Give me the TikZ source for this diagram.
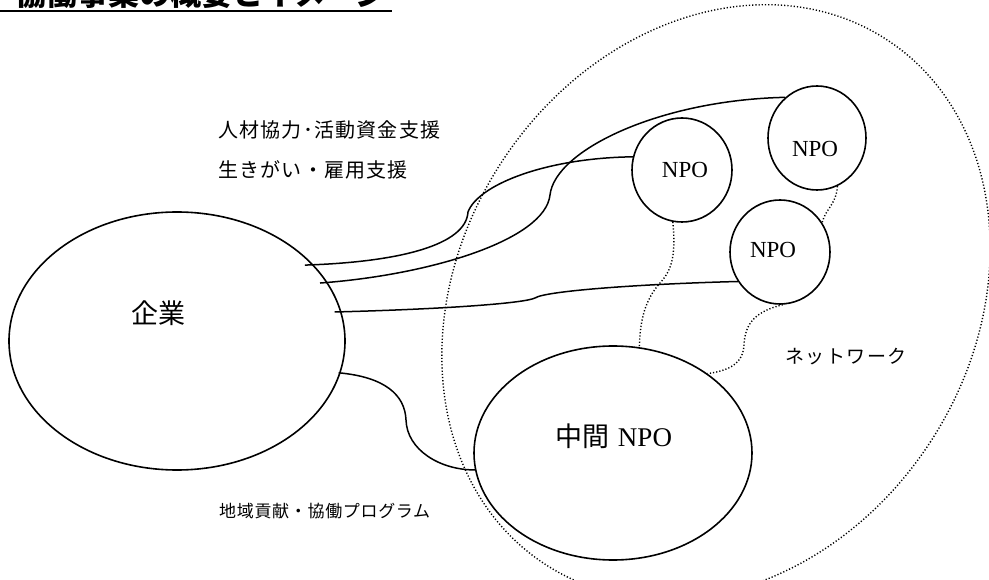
\documentclass[tikz,border=0pt]{standalone}
\usepackage{fontspec}
\setmainfont{Liberation Serif}
\newfontfamily\jp{Noto Sans CJK JP}
\newfontfamily\jpsp{Noto Sans CJK JP}[LetterSpace=6]
\newfontfamily\jpspb{Noto Sans CJK JP}[LetterSpace=4]
\newfontfamily\jpspc{Noto Sans CJK JP}[LetterSpace=8]
\usetikzlibrary{shapes.geometric,calc}
\tikzset{
  blob/.style={ellipse, draw, line width=1.6pt, inner sep=0pt},
  conn/.style={line width=1.5pt},
  netdot/.style={line width=1.4pt, dash pattern=on 1.2pt off 2pt},
  lbl/.style={inner sep=0pt, anchor=west},
  npotext/.style={inner sep=0pt, font=\fontsize{23}{26}\selectfont}
}
\begin{document}
\begin{tikzpicture}[x=1pt,y=-1pt]
\useasboundingbox (0,0) rectangle (989,580);
\clip (0,0) rectangle (989,580);
\fill[white] (0,0) rectangle (989,580);

% title (cut off at top, as in the source)
\node[anchor=base west, inner sep=0pt, font=\jp\bfseries\fontsize{31}{34}\selectfont] (title) at (15,6) {協働事業の概要とイメージ};
\draw[line width=2pt] (0,11) -- (392,11);

% network region
\draw[netdot, shift={(716,302)}, rotate=-33] (0,0) ellipse [x radius=256, y radius=313];

% main shapes
\node[blob, minimum width=336pt, minimum height=258pt] (corp) at (177,341) {};
\node[blob, minimum width=278pt, minimum height=214pt] (mid) at (613,453) {};
\node[blob, minimum width=100pt, minimum height=104pt] (npoA) at (682,170) {};
\node[blob, minimum width=98pt, minimum height=104pt] (npoB) at (817,138) {};
\node[blob, minimum width=100pt, minimum height=104pt] (npoC) at (780,252) {};

% texts in shapes
\node[inner sep=0pt, font=\jp\fontsize{27}{30}\selectfont] (corpT) at (158,313) {企業};
\node[inner sep=0pt, font=\fontsize{27}{30}\selectfont] (midT) at (614,436) {{\jp 中間}\hspace{8pt}NPO};
\node[npotext] (tA) at (685,170) {NPO};
\node[npotext] (tB) at (815,149) {NPO};
\node[npotext] (tC) at (773,250) {NPO};

% labels
\node[lbl, font=\jpsp\fontsize{20}{22}\selectfont] (l1) at (218,130) {人材協力･活動資金支援};
\node[lbl, font=\jpsp\fontsize{20}{22}\selectfont] (l2) at (218,170) {生きがい・雇用支援};
\node[lbl, font=\jpspb\fontsize{17}{19}\selectfont] (l3) at (219,511) {地域貢献・協働プログラム};
\node[lbl, font=\jpspc\fontsize{19}{21}\selectfont] (net) at (785,357) {ネットワーク};

% solid connectors
\draw[conn] ([xshift=-9pt]corp.29) .. controls (400,262) and (466,245) .. (468,212)
   .. controls (478,185) and (545,158) .. (npoA.165);
\draw[conn] ([xshift=-8pt]corp.21) .. controls (430,275) and (545,240) .. (550,195)
   .. controls (555,150) and (660,100) .. (npoB.128);
\draw[conn] ([xshift=-7pt]corp.10) .. controls (450,309) and (525,303) .. (535,298)
   .. controls (545,291) and (640,284) .. (npoC.215);
\draw[conn] ([xshift=-2pt]corp.-11) .. controls (385,377) and (405,395) .. (406,420)
   .. controls (407,450) and (440,470) .. (mid.187);

% dotted network links
\draw[netdot] (npoA.260) .. controls (676,255) and (672,270) .. (660,283)
   .. controls (645,300) and (640,320) .. (mid.76);
\draw[netdot] (npoB.-67) .. controls (836,205) and (826,208) .. (npoC.35);
\draw[netdot] (npoC.-87) .. controls (757,311) and (745,322) .. (744,345)
   .. controls (743,366) and (725,371) .. (mid.40);
\end{tikzpicture}
\end{document}
